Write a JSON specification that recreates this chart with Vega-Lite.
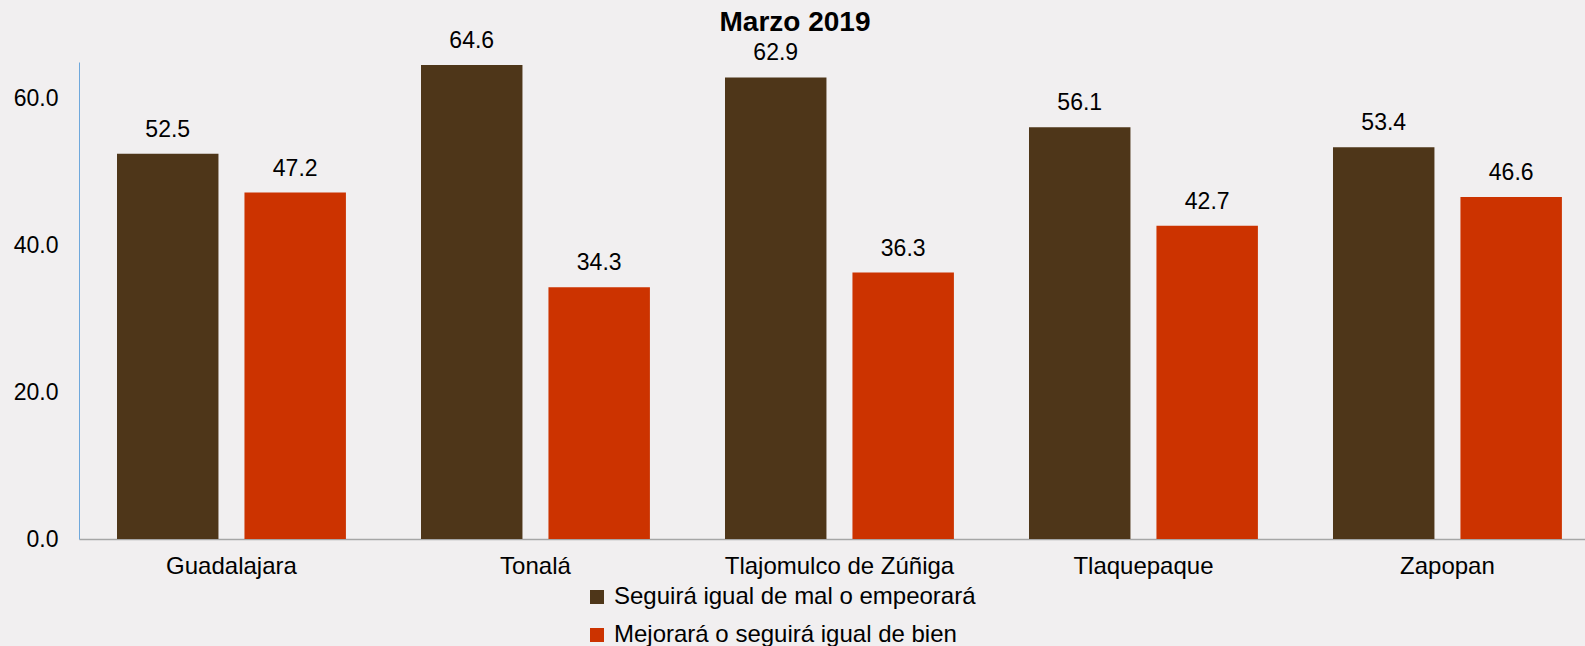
{
  "$schema": "https://vega.github.io/schema/vega-lite/v6.json",
  "autosize": {"type": "none"},
  "padding": {"left": 79, "top": 62, "right": 0, "bottom": 107},
  "width": 1506,
  "height": 477,
  "background": "#F1EFF0",
  "title": {
    "text": "Marzo 2019",
    "fontSize": 28,
    "font": "Liberation Sans",
    "fontWeight": "bold",
    "color": "#000000",
    "anchor": "middle",
    "frame": "group",
    "dx": -37,
    "offset": -7
  },
  "data": {
    "values": [
      {"municipio": "Guadalajara", "serie": "Seguirá igual de mal o empeorará", "valor": 52.5},
      {"municipio": "Guadalajara", "serie": "Mejorará o seguirá igual de bien", "valor": 47.2},
      {"municipio": "Tonalá", "serie": "Seguirá igual de mal o empeorará", "valor": 64.6},
      {"municipio": "Tonalá", "serie": "Mejorará o seguirá igual de bien", "valor": 34.3},
      {"municipio": "Tlajomulco de Zúñiga", "serie": "Seguirá igual de mal o empeorará", "valor": 62.9},
      {"municipio": "Tlajomulco de Zúñiga", "serie": "Mejorará o seguirá igual de bien", "valor": 36.3},
      {"municipio": "Tlaquepaque", "serie": "Seguirá igual de mal o empeorará", "valor": 56.1},
      {"municipio": "Tlaquepaque", "serie": "Mejorará o seguirá igual de bien", "valor": 42.7},
      {"municipio": "Zapopan", "serie": "Seguirá igual de mal o empeorará", "valor": 53.4},
      {"municipio": "Zapopan", "serie": "Mejorará o seguirá igual de bien", "valor": 46.6}
    ]
  },
  "encoding": {
    "x": {
      "field": "municipio",
      "type": "nominal",
      "sort": null,
      "title": null,
      "scale": {"paddingInner": 0.247, "paddingOuter": 0.1005, "align": 0.622},
      "axis": {
        "labelAngle": 0,
        "labelFont": "Liberation Sans",
        "labelFontSize": 24,
        "labelColor": "#000000",
        "labelPadding": 15,
        "labelLimit": 0,
        "ticks": false,
        "domainColor": "#A6A6A6",
        "domainWidth": 1.5,
        "grid": false
      }
    },
    "xOffset": {
      "field": "serie",
      "type": "nominal",
      "sort": ["Seguirá igual de mal o empeorará", "Mejorará o seguirá igual de bien"],
      "scale": {"paddingInner": 0.204, "paddingOuter": 0}
    },
    "y": {
      "field": "valor",
      "type": "quantitative",
      "title": null,
      "scale": {"domain": [0, 65], "nice": false},
      "axis": {
        "values": [0, 20, 40, 60],
        "format": ".1f",
        "labelFont": "Liberation Sans",
        "labelFontSize": 23,
        "labelColor": "#000000",
        "labelPadding": 21,
        "ticks": false,
        "grid": false,
        "domainColor": "#6FA8DC",
        "domainWidth": 1
      }
    }
  },
  "layer": [
    {
      "mark": {"type": "bar"},
      "encoding": {
        "color": {
          "field": "serie",
          "type": "nominal",
          "sort": ["Seguirá igual de mal o empeorará", "Mejorará o seguirá igual de bien"],
          "scale": {"range": ["#4E3619", "#CC3300"]},
          "legend": {
            "title": null,
            "orient": "none",
            "legendX": 506,
            "legendY": 523,
            "direction": "vertical",
            "symbolType": "square",
            "symbolSize": 196,
            "symbolStrokeWidth": 0,
            "labelFont": "Liberation Sans",
            "labelFontSize": 24,
            "labelColor": "#000000",
            "labelOffset": 5,
            "rowPadding": 14,
            "padding": 0,
            "symbolOffset": 0,
            "labelLimit": 600
          }
        }
      }
    },
    {
      "mark": {"type": "text", "baseline": "alphabetic", "dy": -17, "font": "Liberation Sans", "fontSize": 23, "color": "#000000"},
      "encoding": {
        "text": {"field": "valor", "type": "quantitative", "format": ".1f"}
      }
    }
  ],
  "config": {
    "view": {"stroke": null}
  }
}
